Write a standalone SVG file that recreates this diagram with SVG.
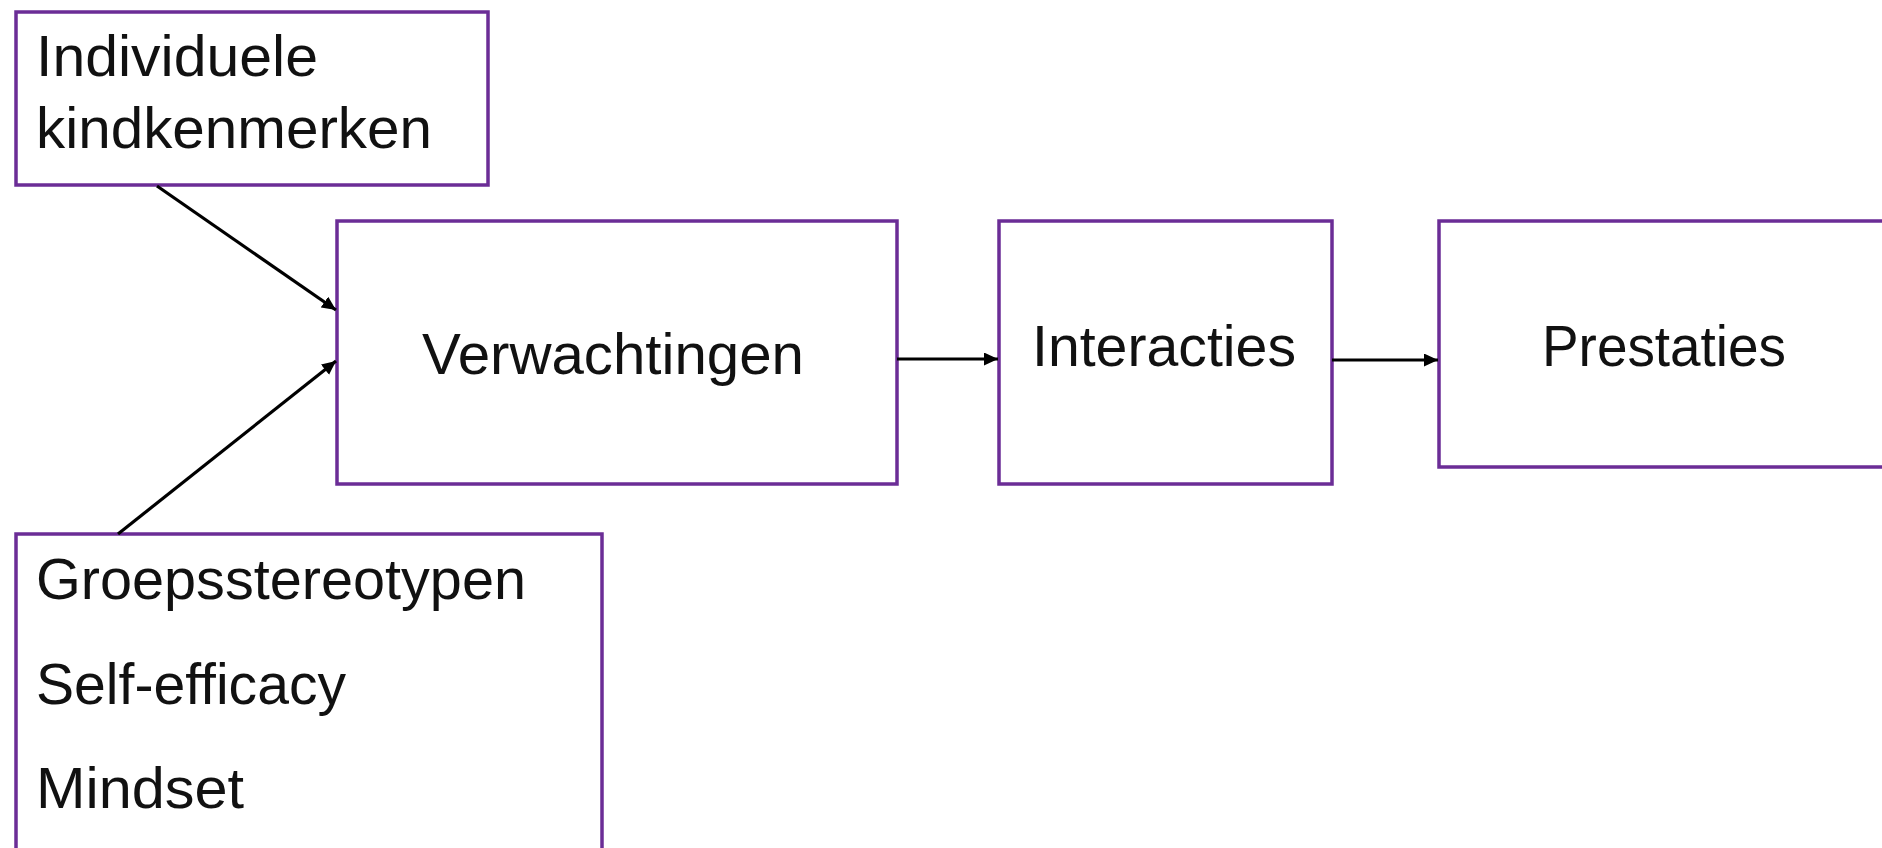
<svg xmlns="http://www.w3.org/2000/svg" width="1882" height="848" viewBox="0 0 1882 848">
<style>
.box{fill:#ffffff;stroke:#6B2D96;stroke-width:3.5}
.t{font-family:"Liberation Sans",Arial,sans-serif;font-size:58px;fill:#111111}
.c{stroke:#000000;stroke-width:3.2;fill:none}
</style>
<defs>
<marker id="ah" markerUnits="userSpaceOnUse" markerWidth="16" markerHeight="14" refX="14" refY="6.5" orient="auto">
<path d="M0,0 L14,6.5 L0,13 z" fill="#000000"/>
</marker>
</defs>
<rect width="1882" height="848" fill="#ffffff"/>
<g id="node-individuele">
<rect class="box" x="16" y="12" width="472" height="173"/>
<text class="t" x="36" y="76" textLength="282" lengthAdjust="spacingAndGlyphs">Individuele</text>
<text class="t" x="36" y="148" textLength="396" lengthAdjust="spacingAndGlyphs">kindkenmerken</text>
</g>
<g id="node-verwachtingen">
<rect class="box" x="337" y="221" width="560" height="263"/>
<text class="t" x="422" y="374" textLength="382" lengthAdjust="spacingAndGlyphs">Verwachtingen</text>
</g>
<g id="node-interacties">
<rect class="box" x="999" y="221" width="333" height="263"/>
<text class="t" x="1032" y="366" textLength="264" lengthAdjust="spacingAndGlyphs">Interacties</text>
</g>
<g id="node-prestaties">
<rect class="box" x="1439" y="221" width="480" height="246"/>
<text class="t" x="1542" y="366" textLength="244" lengthAdjust="spacingAndGlyphs">Prestaties</text>
</g>
<g id="node-groep">
<rect class="box" x="16" y="534" width="586" height="400"/>
<text class="t" x="36" y="599" textLength="490" lengthAdjust="spacingAndGlyphs">Groepsstereotypen</text>
<text class="t" x="36" y="704" textLength="310" lengthAdjust="spacingAndGlyphs">Self-efficacy</text>
<text class="t" x="36" y="808" textLength="208" lengthAdjust="spacingAndGlyphs">Mindset</text>
</g>
<g id="connectors">
<line class="c" x1="157" y1="186" x2="336" y2="310" marker-end="url(#ah)"/>
<line class="c" x1="118" y1="534" x2="336" y2="361" marker-end="url(#ah)"/>
<line class="c" x1="897" y1="359" x2="998" y2="359" marker-end="url(#ah)"/>
<line class="c" x1="1332" y1="360" x2="1438" y2="360" marker-end="url(#ah)"/>
</g>
</svg>
